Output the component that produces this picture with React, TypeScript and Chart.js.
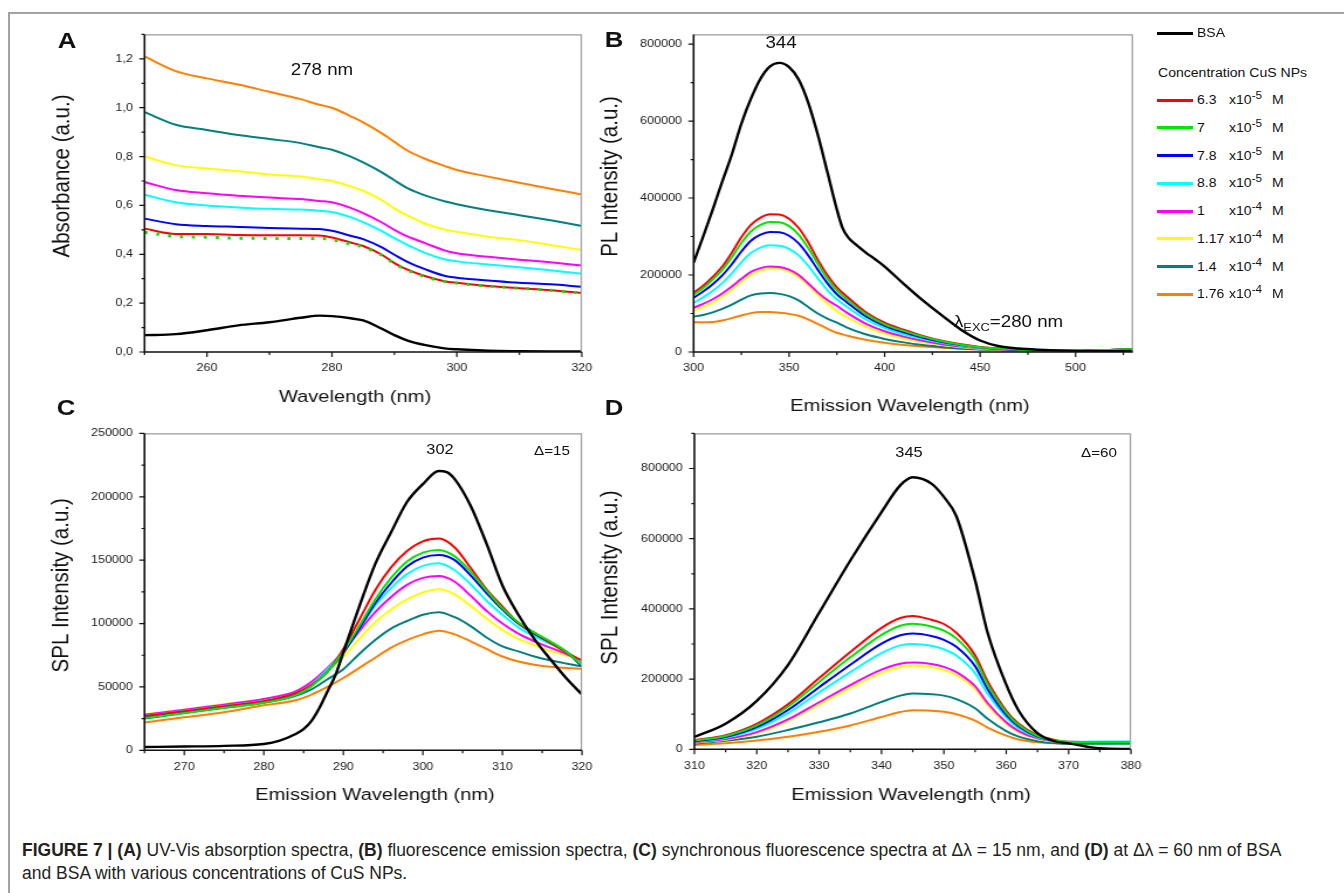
import React, { useEffect, useRef } from "react";
import { Chart, registerables } from "chart.js";

Chart.register(...registerables);

const FONT = "'Liberation Sans', Arial, Helvetica, sans-serif";

// ---------------- DATA ----------------
const SERIES_NAMES = ["BSA", "6.3 x10-5 M", "7 x10-5 M", "7.8 x10-5 M", "8.8 x10-5 M", "1 x10-4 M", "1.17 x10-4 M", "1.4 x10-4 M", "1.76 x10-4 M"];
const SERIES_COLORS = ["#000000", "#ff0000", "#00e600", "#0000ff", "#00ffff", "#ff00ff", "#ffff00", "#007f7f", "#ff8000"];
const LEGEND_NUMBERS = ["6.3", "7", "7.8", "8.8", "1", "1.17", "1.4", "1.76"];
const LEGEND_EXPONENTS = ["-5", "-5", "-5", "-5", "-4", "-4", "-4", "-4"];

// Panel A: UV-Vis absorption
const A_X = [250, 255, 260, 265, 270, 275, 278, 280, 283, 285, 288, 290, 292, 295, 298, 300, 305, 310, 315, 320];
const A_BSA = [0.069, 0.073, 0.089, 0.109, 0.122, 0.14, 0.149, 0.147, 0.138, 0.129, 0.095, 0.069, 0.048, 0.028, 0.015, 0.011, 0.005, 0.003, 0.002, 0.002];
const A_C63 = [0.505, 0.483, 0.483, 0.479, 0.478, 0.478, 0.477, 0.469, 0.448, 0.434, 0.398, 0.364, 0.338, 0.31, 0.29, 0.283, 0.27, 0.261, 0.253, 0.241];
const A_C70 = [0.49, 0.474, 0.47, 0.466, 0.465, 0.465, 0.465, 0.46, 0.442, 0.43, 0.396, 0.362, 0.336, 0.308, 0.289, 0.282, 0.27, 0.261, 0.253, 0.241];
const A_C78 = [0.546, 0.523, 0.516, 0.512, 0.508, 0.505, 0.503, 0.496, 0.476, 0.462, 0.428, 0.398, 0.37, 0.338, 0.312, 0.304, 0.293, 0.283, 0.277, 0.267];
const A_C88 = [0.644, 0.613, 0.6, 0.592, 0.586, 0.583, 0.578, 0.573, 0.552, 0.532, 0.495, 0.466, 0.44, 0.405, 0.38, 0.371, 0.358, 0.347, 0.335, 0.32];
const A_C100 = [0.696, 0.663, 0.65, 0.64, 0.632, 0.626, 0.618, 0.613, 0.59, 0.568, 0.53, 0.5, 0.474, 0.445, 0.416, 0.404, 0.39, 0.378, 0.367, 0.354];
const A_C117 = [0.801, 0.765, 0.751, 0.74, 0.727, 0.718, 0.707, 0.7, 0.678, 0.66, 0.622, 0.588, 0.56, 0.525, 0.502, 0.492, 0.472, 0.458, 0.438, 0.418];
const A_C140 = [0.982, 0.93, 0.909, 0.888, 0.872, 0.855, 0.838, 0.828, 0.8, 0.776, 0.735, 0.703, 0.672, 0.64, 0.617, 0.605, 0.58, 0.56, 0.539, 0.516];
const A_C176 = [1.21, 1.15, 1.12, 1.095, 1.065, 1.035, 1.012, 1.0, 0.965, 0.94, 0.895, 0.86, 0.826, 0.79, 0.762, 0.745, 0.718, 0.693, 0.668, 0.645];
const A_X_TICKS = [260, 280, 300, 320];
const A_Y_TICKS = [0, 0.2, 0.4, 0.6, 0.8, 1.0, 1.2];

// Panel B: fluorescence emission
const B_X_BSA = [300, 305, 310, 315, 320, 325, 330, 335, 340, 345, 350, 355, 360, 365, 370, 375, 378, 381, 385, 390, 395, 400, 410, 420, 430, 440, 450, 460, 470, 480, 500, 520, 530];
const B_BSA = [232000, 300000, 370000, 443000, 513000, 593000, 658000, 710000, 742000, 751000, 740000, 708000, 648000, 565000, 468000, 370000, 322000, 297000, 279000, 259000, 241000, 222000, 177000, 134000, 95000, 58000, 30000, 15000, 9000, 6000, 3000, 2000, 3000];
const B_X = [300, 305, 310, 315, 320, 325, 330, 335, 340, 345, 350, 355, 360, 365, 370, 375, 380, 390, 400, 410, 420, 430, 440, 450, 460, 480, 500, 520, 530];
const B_C63 = [154000, 172000, 195000, 222000, 258000, 298000, 330000, 349000, 358000, 357000, 346000, 322000, 285000, 240000, 200000, 168000, 145000, 104000, 76000, 58000, 42000, 29000, 20000, 13000, 9000, 5000, 3000, 6000, 8000];
const B_C70 = [149000, 166000, 188000, 213000, 246000, 283000, 313000, 330000, 338000, 337000, 327000, 305000, 270000, 229000, 191000, 160000, 138000, 99000, 72000, 55000, 40000, 28000, 19000, 12500, 8500, 5000, 3000, 6000, 8000];
const B_C78 = [141000, 157000, 176000, 199000, 228000, 261000, 289000, 305000, 312000, 311000, 302000, 282000, 251000, 214000, 179000, 150000, 130000, 93000, 68000, 51000, 37000, 26000, 18000, 12000, 8000, 4500, 3000, 6000, 8000];
const B_C88 = [128000, 142000, 159000, 179000, 204000, 233000, 257000, 271000, 277000, 276000, 268000, 251000, 224000, 192000, 161000, 137000, 118000, 85000, 62000, 46000, 34000, 24000, 16500, 11000, 7500, 4500, 3000, 6000, 8000];
const B_C100 = [115000, 125000, 137000, 152000, 170000, 190000, 208000, 218000, 222000, 221000, 214000, 200000, 178000, 155000, 135000, 120000, 103000, 74000, 54000, 40000, 29000, 20000, 14000, 9500, 6500, 4000, 2500, 5000, 7000];
const B_C117 = [107000, 117000, 129000, 144000, 162000, 183000, 201000, 212000, 217000, 216000, 209000, 195000, 174000, 149000, 126000, 106000, 91000, 66000, 48000, 35000, 25500, 18000, 12500, 8500, 6000, 3500, 2000, 5000, 7000];
const B_C140 = [92000, 96000, 103000, 112000, 123000, 136000, 147000, 152000, 153000, 151000, 145000, 134000, 117000, 100000, 87000, 76000, 64000, 46000, 34000, 25000, 18000, 13000, 9000, 6500, 4500, 3000, 2000, 4000, 6000];
const B_C176 = [77000, 77000, 78000, 82000, 88000, 95000, 101000, 104000, 104000, 102000, 99000, 94000, 85000, 73000, 61000, 50000, 43000, 32000, 24000, 18000, 14000, 11000, 8500, 6500, 5000, 3500, 2000, 4000, 6000];
const B_X_TICKS = [300, 350, 400, 450, 500];
const B_Y_TICKS = [0, 200000, 400000, 600000, 800000];

// Panel C: synchronous, delta 15
const C_X_BSA = [265, 270, 275, 280, 282, 284, 285, 286, 287, 288, 289, 290, 292, 294, 296, 298, 300, 302, 303, 304, 306, 308, 310, 312, 314, 316, 318, 320];
const C_BSA = [2600, 3000, 3500, 5000, 7700, 12900, 16700, 23200, 33500, 46400, 59300, 77300, 113400, 146900, 172000, 195900, 210000, 220400, 219500, 214000, 193000, 163000, 130000, 107000, 88000, 72000, 57000, 44000];
const C_X = [265, 270, 275, 280, 284, 286, 288, 290, 292, 294, 296, 298, 300, 302, 304, 306, 308, 310, 312, 314, 316, 318, 320];
const C_C63 = [27000, 30900, 34800, 38700, 45100, 51500, 61900, 80000, 103000, 126300, 144300, 157200, 164900, 167000, 160000, 144000, 127000, 113400, 100500, 92800, 85000, 77300, 70900];
const C_C70 = [25500, 29500, 33500, 37500, 43500, 50500, 62000, 78000, 98000, 119000, 136000, 149000, 156000, 158000, 153000, 141000, 126000, 112000, 101000, 93000, 86000, 78000, 67000];
const C_C78 = [26000, 30000, 34000, 38000, 44000, 51000, 62000, 77000, 96000, 116000, 132000, 145000, 152000, 154000, 150000, 138000, 124000, 111000, 100000, 92000, 85000, 78000, 66000];
const C_C88 = [27000, 31000, 35000, 39000, 45000, 52000, 64000, 78000, 96000, 114000, 128000, 139000, 145500, 147500, 142000, 131000, 118000, 107000, 97000, 90000, 84000, 78000, 69000];
const C_C100 = [28000, 32000, 36000, 40500, 46500, 54000, 65000, 78000, 94000, 109000, 121000, 130500, 136000, 137500, 133000, 122000, 110000, 100000, 92000, 86000, 81000, 76000, 70000];
const C_C117 = [28500, 32000, 36500, 40500, 46000, 53000, 63000, 74000, 88000, 101000, 111000, 119000, 124500, 127000, 123000, 114000, 104000, 95000, 88000, 83000, 78500, 75000, 71000];
const C_C140 = [25000, 29500, 33500, 37500, 43000, 48000, 56000, 64000, 76000, 87000, 96000, 102000, 107000, 109000, 105000, 98000, 89000, 82000, 78000, 74000, 71000, 68500, 66200];
const C_C176 = [22000, 26000, 30000, 35500, 39500, 44000, 50000, 57000, 65000, 73000, 81000, 87000, 91500, 94400, 91500, 86000, 80000, 74000, 70000, 67500, 66000, 65000, 64400];
const C_X_TICKS = [270, 280, 290, 300, 310, 320];
const C_Y_TICKS = [0, 50000, 100000, 150000, 200000, 250000];

// Panel D: synchronous, delta 60
const D_X = [310, 315, 320, 325, 330, 335, 340, 343, 345, 348, 350, 352, 355, 357, 360, 362, 365, 368, 370, 375, 380];
const D_BSA = [35000, 73000, 138000, 240000, 389000, 538000, 676000, 752000, 775000, 757000, 719000, 664000, 482000, 333000, 184000, 110000, 46000, 22000, 17000, 3000, 1000];
const D_C63 = [26000, 40000, 72600, 128000, 203000, 277000, 346000, 374000, 380000, 369000, 357000, 332000, 268000, 194000, 110000, 72600, 40000, 26000, 21500, 21000, 21000];
const D_C70 = [25000, 38000, 68000, 121000, 192000, 262000, 326000, 352000, 358000, 350000, 338000, 316000, 256000, 185000, 105000, 69000, 38000, 25000, 21000, 20500, 20500];
const D_C78 = [23000, 35000, 63000, 112000, 177000, 241000, 301000, 325000, 330000, 323000, 312000, 292000, 237000, 172000, 98000, 65000, 36000, 24000, 20000, 19500, 19500];
const D_C88 = [22000, 33000, 58000, 103000, 162000, 220000, 274000, 296000, 300000, 295000, 285000, 267000, 217000, 158000, 91000, 60000, 34000, 23500, 21500, 22000, 22000];
const D_C100 = [20000, 29000, 49000, 85000, 134000, 183000, 227000, 244000, 247000, 243000, 235000, 220000, 180000, 132000, 77000, 52000, 31000, 22000, 19500, 19500, 19500];
const D_C117 = [19000, 27000, 46000, 81000, 128000, 175000, 218000, 234000, 238000, 234000, 226000, 211000, 172000, 126000, 73000, 49000, 29000, 21000, 18500, 18500, 18500];
const D_C140 = [16000, 24000, 36000, 55000, 77000, 102000, 135000, 153000, 159000, 157000, 153000, 143000, 117000, 87000, 52000, 36000, 23000, 17500, 16000, 16000, 16000];
const D_C176 = [12000, 17000, 25000, 36000, 50000, 68000, 92000, 106000, 111000, 110000, 107000, 100000, 82000, 62000, 39000, 28000, 20000, 17000, 16000, 17000, 20000];
const D_X_TICKS = [310, 320, 330, 340, 350, 360, 370, 380];
const D_Y_TICKS = [0, 200000, 400000, 600000, 800000];

// ---------------- LAYOUT / STYLE ----------------
const SX = 1.17; // horizontal stretch of the figure artwork
const TICK_SIZE = 10.7;
const X_TITLE_SIZE = 17.2;
const Y_TITLE_SIZE = 20.5;
const ORDER = [0, 2, 1, 3, 4, 5, 6, 7, 8];

type Layout = {
  L: number; R: number; T: number; B: number;
  yTitleX: number; yTitleY: number; xTitleX: number; xTitleY: number;
};
type SeriesXY = { x: number[]; y: number[] };
type PanelSpec = {
  layout: Layout;
  xMin: number; xMax: number; yMin: number; yMax: number;
  xTicks: number[]; yTicks: number[]; xMinor: number; yMinor: number;
  xTitle: string; yTitle: string;
  yFormat: (v: number) => string;
  series: SeriesXY[];
  greenDotted?: boolean;
};

const PANELS: PanelSpec[] = [
  {
    layout: { L: 144.5, R: 583.6, T: 28, B: 352, yTitleX: 63, yTitleY: 176, xTitleX: 355, xTitleY: 397 },
    xMin: 250, xMax: 320, yMin: 0, yMax: 1.3,
    xTicks: A_X_TICKS, yTicks: A_Y_TICKS, xMinor: 10, yMinor: 0.1,
    xTitle: "Wavelength (nm)", yTitle: "Absorbance (a.u.)",
    yFormat: (v) => v.toFixed(1).replace(".", ","),
    series: [A_BSA, A_C63, A_C70, A_C78, A_C88, A_C100, A_C117, A_C140, A_C176].map((y) => ({ x: A_X, y })),
    greenDotted: true,
  },
  {
    layout: { L: 693.6, R: 1132.9, T: 28, B: 352, yTitleX: 611, yTitleY: 176.5, xTitleX: 910, xTitleY: 406.5 },
    xMin: 300, xMax: 530, yMin: 0, yMax: 825000,
    xTicks: B_X_TICKS, yTicks: B_Y_TICKS, xMinor: 25, yMinor: 100000,
    xTitle: "Emission Wavelength (nm)", yTitle: "PL Intensity (a.u.)",
    yFormat: (v) => String(v),
    series: [
      { x: B_X_BSA, y: B_BSA },
      ...[B_C63, B_C70, B_C78, B_C88, B_C100, B_C117, B_C140, B_C176].map((y) => ({ x: B_X, y })),
    ],
  },
  {
    layout: { L: 144.5, R: 583.6, T: 426.7, B: 750, yTitleX: 62, yTitleY: 585, xTitleX: 375, xTitleY: 795 },
    xMin: 265, xMax: 320, yMin: 0, yMax: 250000,
    xTicks: C_X_TICKS, yTicks: C_Y_TICKS, xMinor: 5, yMinor: 25000,
    xTitle: "Emission Wavelength (nm)", yTitle: "SPL Intensity (a.u.)",
    yFormat: (v) => String(v),
    series: [
      { x: C_X_BSA, y: C_BSA },
      ...[C_C63, C_C70, C_C78, C_C88, C_C100, C_C117, C_C140, C_C176].map((y) => ({ x: C_X, y })),
    ],
  },
  {
    layout: { L: 693.9, R: 1132.3, T: 427, B: 749.3, yTitleX: 610.5, yTitleY: 577.5, xTitleX: 910.5, xTitleY: 795 },
    xMin: 310, xMax: 380, yMin: 0, yMax: 900000,
    xTicks: D_X_TICKS, yTicks: D_Y_TICKS, xMinor: 5, yMinor: 100000,
    xTitle: "Emission Wavelength (nm)", yTitle: "SPL Intensity (a.u.)",
    yFormat: (v) => String(v),
    series: [D_BSA, D_C63, D_C70, D_C78, D_C88, D_C100, D_C117, D_C140, D_C176].map((y) => ({ x: D_X, y })),
  },
];

function geometry(g: Layout) {
  const left = g.yTitleX - 16;
  const wy = (g.L - left) / SX;
  const plotW = (g.R - g.L) / SX;
  const w = Math.ceil(wy + plotW + 17);
  const padRight = w - wy - plotW;
  const top = g.T - 10;
  const h = Math.ceil(g.xTitleY + 14 - top);
  const hx = h - 10 - (g.B - g.T);
  return { left, top, w, h, wy, padRight, hx };
}

const originFrame = {
  id: "originFrame",
  afterDatasetsDraw(chart: any, _args: any, opts: any) {
    const { ctx, chartArea: a } = chart;
    const xs = chart.scales.x;
    const ys = chart.scales.y;
    ctx.save();
    ctx.lineCap = "butt";
    ctx.strokeStyle = "#9a9a9a";
    ctx.lineWidth = 1.2;
    ctx.beginPath();
    ctx.moveTo(a.left, a.top + 0.5);
    ctx.lineTo(a.right - 0.5, a.top + 0.5);
    ctx.lineTo(a.right - 0.5, a.bottom);
    ctx.stroke();
    ctx.strokeStyle = "#111";
    ctx.lineWidth = 1.6;
    ctx.beginPath();
    ctx.moveTo(a.left, a.top);
    ctx.lineTo(a.left, a.bottom);
    ctx.lineTo(a.right, a.bottom);
    ctx.stroke();
    ctx.lineWidth = 1.2;
    ctx.beginPath();
    const majX = xs.ticks.map((t: any) => t.value);
    const nx = Math.floor((xs.max - xs.min) / opts.xMinor + 1e-6);
    for (let i = 0; i <= nx; i++) {
      const v = xs.min + i * opts.xMinor;
      const px = xs.getPixelForValue(v);
      const major = majX.some((m: number) => Math.abs(m - v) < opts.xMinor * 0.01);
      ctx.moveTo(px, a.bottom);
      ctx.lineTo(px, a.bottom + (major ? 5 : 3));
    }
    const majY = ys.ticks.map((t: any) => t.value);
    const ny = Math.floor((ys.max - ys.min) / opts.yMinor + 1e-6);
    for (let i = 0; i <= ny; i++) {
      const v = ys.min + i * opts.yMinor;
      const py = ys.getPixelForValue(v);
      const major = majY.some((m: number) => Math.abs(m - v) < opts.yMinor * 0.01);
      ctx.moveTo(a.left, py);
      ctx.lineTo(a.left - (major ? 4.5 : 2.6), py);
    }
    ctx.stroke();

    // axis titles
    ctx.fillStyle = "#111";
    ctx.textAlign = "center";
    ctx.textBaseline = "middle";
    ctx.font = `${X_TITLE_SIZE}px ${FONT}`;
    ctx.fillText(opts.xTitle.text, opts.xTitle.x, opts.xTitle.y);
    ctx.translate(opts.yTitle.x, opts.yTitle.y);
    ctx.rotate(-Math.PI / 2);
    ctx.font = `${Y_TITLE_SIZE}px ${FONT}`;
    ctx.fillText(opts.yTitle.text, 0, 0);
    ctx.restore();
  },
};

function buildConfig(spec: PanelSpec, geo: ReturnType<typeof geometry>) {
  const g = spec.layout;
  const datasets = spec.series.map((s, i) => ({
    label: SERIES_NAMES[i],
    data: s.x.map((x, j) => ({ x, y: s.y[j] })),
    borderColor: SERIES_COLORS[i],
    backgroundColor: SERIES_COLORS[i],
    borderWidth: spec.greenDotted && i === 2 ? 3 : i === 0 ? 2.4 : 2,
    borderDash: spec.greenDotted && i === 2 ? [2.6, 7.6] : [],
    pointRadius: 0,
    fill: false,
    cubicInterpolationMode: "monotone",
    order: ORDER[i],
  }));
  return {
    type: "line",
    data: { datasets },
    options: {
      animation: false,
      responsive: false,
      maintainAspectRatio: false,
      events: [],
      layout: { padding: { top: 10, right: geo.padRight, bottom: 0, left: 0 } },
      plugins: {
        legend: { display: false },
        tooltip: { enabled: false },
        originFrame: {
          xMinor: spec.xMinor,
          yMinor: spec.yMinor,
          xTitle: { text: spec.xTitle, x: (g.xTitleX - geo.left) / SX, y: g.xTitleY - geo.top },
          yTitle: { text: spec.yTitle, x: (g.yTitleX - geo.left) / SX, y: g.yTitleY - geo.top },
        },
      },
      scales: {
        x: {
          type: "linear",
          position: "bottom",
          min: spec.xMin,
          max: spec.xMax,
          grid: { display: false, drawTicks: false },
          border: { display: false },
          ticks: {
            padding: 10,
            autoSkip: false,
            maxRotation: 0,
            color: "#1a1a1a",
            font: { family: FONT, size: TICK_SIZE },
            callback: (v: number) => String(v),
          },
          afterBuildTicks: (s: any) => {
            s.ticks = spec.xTicks.map((v) => ({ value: v }));
          },
          afterFit: (s: any) => {
            s.height = geo.hx;
          },
          title: { display: false },
        },
        y: {
          type: "linear",
          position: "left",
          min: spec.yMin,
          max: spec.yMax,
          grid: { display: false, drawTicks: false },
          border: { display: false },
          ticks: {
            padding: 10,
            autoSkip: false,
            color: "#1a1a1a",
            font: { family: FONT, size: TICK_SIZE },
            callback: (v: number) => spec.yFormat(v),
          },
          afterBuildTicks: (s: any) => {
            s.ticks = spec.yTicks.map((v) => ({ value: v }));
          },
          afterFit: (s: any) => {
            s.width = geo.wy;
          },
          title: { display: false },
        },
      },
    },
    plugins: [originFrame],
  };
}

function Panel({ spec }: { spec: PanelSpec }) {
  const ref = useRef<HTMLCanvasElement>(null);
  const geo = geometry(spec.layout);
  useEffect(() => {
    const chart = new Chart(ref.current as HTMLCanvasElement, buildConfig(spec, geo) as any);
    return () => chart.destroy();
  }, []);
  return (
    <div
      style={{
        position: "absolute",
        left: geo.left,
        top: geo.top,
        width: geo.w,
        height: geo.h,
        transform: `scaleX(${SX})`,
        transformOrigin: "0 0",
      }}
    >
      <canvas ref={ref} width={geo.w} height={geo.h} style={{ width: geo.w, height: geo.h, display: "block" }} />
    </div>
  );
}

function Txt({
  x, y, size, bold, start, children,
}: {
  x: number; y: number; size: number; bold?: boolean; start?: boolean; children: React.ReactNode;
}) {
  return (
    <div
      style={{
        position: "absolute",
        left: x,
        top: y,
        fontFamily: FONT,
        fontSize: size,
        fontWeight: bold ? 700 : 400,
        lineHeight: 1,
        whiteSpace: "nowrap",
        color: "#111",
        transformOrigin: start ? "0 50%" : "50% 50%",
        transform: (start ? "translateY(-50%)" : "translate(-50%, -50%)") + ` scaleX(${SX})`,
      }}
    >
      {children}
    </div>
  );
}

const LEGEND_ROW0 = 100;
const LEGEND_STEP = 27.75;

function Legend() {
  return (
    <>
      <div style={{ position: "absolute", left: 1157, top: 31.5, width: 36, height: 3, background: SERIES_COLORS[0] }} />
      <Txt x={1197} y={33} size={12} start>BSA</Txt>
      <Txt x={1158} y={73} size={12} start>Concentration CuS NPs</Txt>
      {LEGEND_NUMBERS.map((n, i) => {
        const y = LEGEND_ROW0 + i * LEGEND_STEP;
        return (
          <React.Fragment key={i}>
            <div style={{ position: "absolute", left: 1157, top: y - 1.5, width: 36, height: 3, background: SERIES_COLORS[i + 1] }} />
            <Txt x={1197} y={y} size={12} start>{n}</Txt>
            <Txt x={1229} y={y} size={12} start>
              x10<span style={{ fontSize: 10, position: "relative", top: -5 }}>{LEGEND_EXPONENTS[i]}</span>
            </Txt>
            <Txt x={1272} y={y} size={12} start>M</Txt>
          </React.Fragment>
        );
      })}
    </>
  );
}

export default function App() {
  return (
    <div style={{ position: "fixed", left: 0, top: 0, width: 1344, height: 893, background: "#fff", overflow: "hidden" }}>
      <div
        style={{
          position: "absolute",
          left: 8,
          top: 12,
          width: 1400,
          height: 900,
          borderTop: "2px solid #a3a3a3",
          borderLeft: "2px solid #a3a3a3",
        }}
      />
      {PANELS.map((p, i) => (
        <Panel key={i} spec={p} />
      ))}

      <Txt x={67} y={41} size={22} bold>A</Txt>
      <Txt x={614} y={40} size={22} bold>B</Txt>
      <Txt x={66} y={408} size={22} bold>C</Txt>
      <Txt x={614} y={408} size={22} bold>D</Txt>

      <Txt x={322} y={70} size={16}>278 nm</Txt>
      <Txt x={781} y={43} size={16}>344</Txt>
      <Txt x={954} y={322} size={16} start>
        λ<span style={{ fontSize: 11, position: "relative", top: 4 }}>EXC</span>=280 nm
      </Txt>
      <Txt x={440} y={449} size={14}>302</Txt>
      <Txt x={534} y={450} size={13} start>Δ=15</Txt>
      <Txt x={909} y={452} size={14}>345</Txt>
      <Txt x={1081} y={452} size={13} start>Δ=60</Txt>

      <Legend />

      <div
        style={{
          position: "absolute",
          left: 22,
          top: 838.5,
          fontFamily: FONT,
          fontSize: 17.5,
          lineHeight: "23px",
          color: "#231f20",
          whiteSpace: "nowrap",
        }}
      >
        <b>FIGURE 7 | (A)</b> UV-Vis absorption spectra, <b>(B)</b> fluorescence emission spectra, <b>(C)</b> synchronous
        fluorescence spectra at Δλ = 15 nm, and <b>(D)</b> at Δλ = 60 nm of BSA
        <br />
        and BSA with various concentrations of CuS NPs.
      </div>
    </div>
  );
}
